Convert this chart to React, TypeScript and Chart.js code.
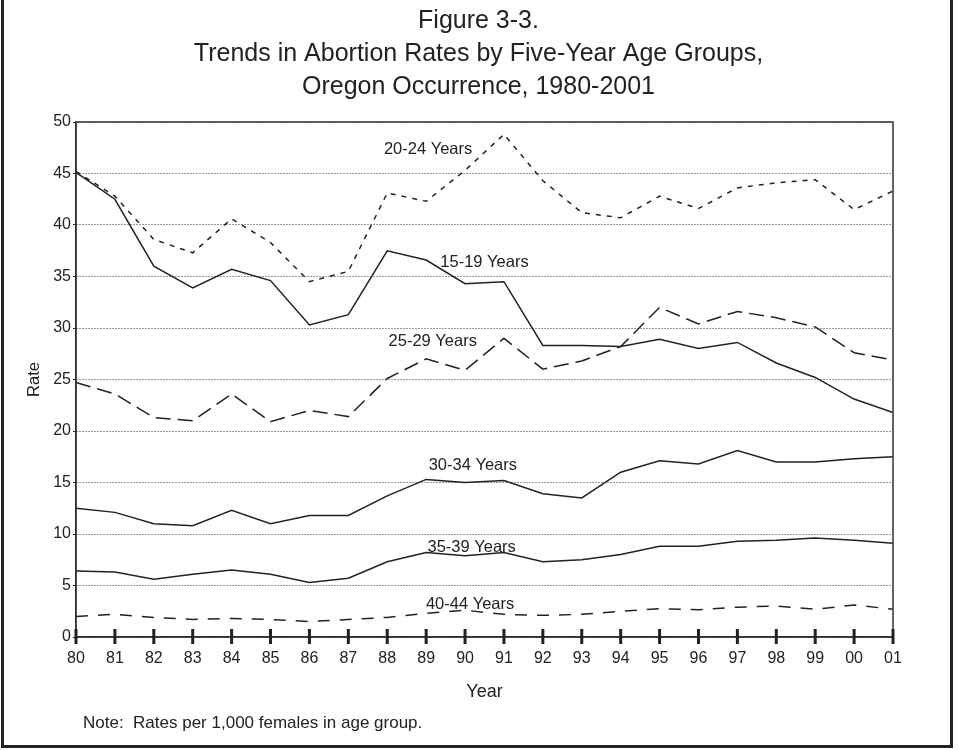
import React, { useEffect, useRef } from 'react';
import { Chart, registerables } from 'chart.js';

Chart.register(...registerables);

const years = ['80', '81', '82', '83', '84', '85', '86', '87', '88', '89', '90', '91', '92', '93', '94', '95', '96', '97', '98', '99', '00', '01'];
const rate15to19 = [45.1, 42.5, 36.0, 33.9, 35.7, 34.6, 30.3, 31.3, 37.5, 36.6, 34.3, 34.5, 28.3, 28.3, 28.2, 28.9, 28.0, 28.6, 26.6, 25.2, 23.1, 21.8];
const rate20to24 = [45.2, 42.8, 38.6, 37.3, 40.6, 38.3, 34.5, 35.5, 43.1, 42.3, 45.3, 48.8, 44.3, 41.2, 40.7, 42.8, 41.6, 43.6, 44.1, 44.4, 41.5, 43.3];
const rate25to29 = [24.7, 23.6, 21.3, 21.0, 23.6, 20.9, 22.0, 21.4, 25.1, 27.0, 25.9, 29.0, 26.0, 26.8, 28.2, 32.0, 30.4, 31.6, 31.0, 30.1, 27.6, 26.9];
const rate30to34 = [12.5, 12.1, 11.0, 10.8, 12.3, 11.0, 11.8, 11.8, 13.7, 15.3, 15.0, 15.2, 13.9, 13.5, 16.0, 17.1, 16.8, 18.1, 17.0, 17.0, 17.3, 17.5];
const rate35to39 = [6.4, 6.3, 5.6, 6.1, 6.5, 6.1, 5.3, 5.7, 7.3, 8.2, 7.9, 8.2, 7.3, 7.5, 8.0, 8.8, 8.8, 9.3, 9.4, 9.6, 9.4, 9.1];
const rate40to44 = [2.0, 2.2, 1.9, 1.7, 1.8, 1.7, 1.5, 1.7, 1.9, 2.3, 2.6, 2.2, 2.1, 2.2, 2.5, 2.75, 2.65, 2.9, 3.0, 2.7, 3.1, 2.7];

const seriesNames = ['15-19 Years', '20-24 Years', '25-29 Years', '30-34 Years', '35-39 Years', '40-44 Years'];
const titleLines = ['Figure 3-3.', 'Trends in Abortion Rates by Five-Year Age Groups,', 'Oregon Occurrence, 1980-2001'];
const noteText = 'Note:  Rates per 1,000 females in age group.';

// label anchor points in data coordinates (category index, rate)
const labelAnchors = [
  { text: seriesNames[1], x: 9.05, y: 47.3 },
  { text: seriesNames[0], x: 10.5, y: 36.4 },
  { text: seriesNames[2], x: 9.17, y: 28.7 },
  { text: seriesNames[3], x: 10.2, y: 16.7 },
  { text: seriesNames[4], x: 10.17, y: 8.7 },
  { text: seriesNames[5], x: 10.13, y: 3.15 },
];

const FONT = '"Liberation Sans", Arial, sans-serif';
const INK = '#222';

const decorPlugin = {
  id: 'decor',
  afterDraw(chart: any) {
    const { ctx, chartArea: a, scales, width, height } = chart;
    const xs = scales.x;
    const ys = scales.y;
    ctx.save();
    // plot frame
    ctx.strokeStyle = '#333';
    ctx.lineWidth = 1.5;
    ctx.setLineDash([]);
    ctx.strokeRect(a.left, a.top, a.right - a.left, a.bottom - a.top);
    // cross ticks on x axis
    ctx.lineWidth = 3;
    ctx.strokeStyle = INK;
    years.forEach((_, i) => {
      const px = xs.getPixelForTick(i);
      ctx.beginPath();
      ctx.moveTo(px, a.bottom - 8);
      ctx.lineTo(px, a.bottom + 7);
      ctx.stroke();
    });
    // series labels
    ctx.fillStyle = INK;
    ctx.font = `16.5px ${FONT}`;
    ctx.textAlign = 'center';
    ctx.textBaseline = 'middle';
    labelAnchors.forEach((l) => {
      ctx.fillText(l.text, xs.getPixelForValue(l.x), ys.getPixelForValue(l.y));
    });
    // title
    ctx.font = `25px ${FONT}`;
    titleLines.forEach((t, i) => {
      ctx.fillText(t, width / 2 - 1, 21 + i * 33);
    });
    // note
    ctx.font = `17px ${FONT}`;
    ctx.textAlign = 'left';
    ctx.fillText(noteText, 83, 723);
    // outer frame
    ctx.lineWidth = 3;
    ctx.strokeStyle = INK;
    ctx.beginPath();
    ctx.moveTo(2.5, 0);
    ctx.lineTo(2.5, height - 3.5);
    ctx.lineTo(width - 7.5, height - 3.5);
    ctx.lineTo(width - 7.5, 0);
    ctx.stroke();
    ctx.restore();
  },
};

export default function App() {
  const ref = useRef<HTMLCanvasElement | null>(null);
  useEffect(() => {
    document.body.style.margin = '0';
    const canvas = ref.current;
    if (!canvas) return;
    const line = (label: string, data: number[], dash: number[]) => ({
      label,
      data,
      borderColor: INK,
      borderWidth: 1.5,
      borderDash: dash,
      pointRadius: 0,
      tension: 0,
      fill: false,
    });
    const chart = new Chart(canvas, {
      type: 'line',
      data: {
        labels: years,
        datasets: [
          line(seriesNames[0], rate15to19, []),
          line(seriesNames[1], rate20to24, [5, 6]),
          line(seriesNames[2], rate25to29, [15, 7]),
          line(seriesNames[3], rate30to34, []),
          line(seriesNames[4], rate35to39, []),
          line(seriesNames[5], rate40to44, [12, 10]),
        ],
      },
      options: {
        animation: false,
        responsive: false,
        devicePixelRatio: 1,
        layout: { padding: { left: 0, top: 122, right: 66, bottom: 0 } },
        plugins: { legend: { display: false }, tooltip: { enabled: false }, title: { display: false } },
        scales: {
          x: {
            type: 'category',
            offset: false,
            afterFit: (s: any) => { s.height = 113; },
            grid: { display: false, drawTicks: false },
            border: { display: true, color: '#333', width: 1.5 },
            ticks: { color: INK, font: { family: FONT, size: 16 }, padding: 12, maxRotation: 0, autoSkip: false },
            title: { display: true, text: 'Year', color: INK, font: { family: FONT, size: 18 }, padding: { top: 0, bottom: 47 } },
          },
          y: {
            min: 0,
            max: 50,
            afterFit: (s: any) => { s.width = 76; },
            grid: { color: '#333', lineWidth: 1, drawTicks: true, tickLength: 3, tickColor: INK, tickWidth: 1 },
            border: { display: true, color: '#333', width: 1.5, dash: [1, 2] },
            ticks: { stepSize: 5, color: INK, font: { family: FONT, size: 16 }, padding: 2 },
            title: { display: true, text: 'Rate', color: INK, font: { family: FONT, size: 16.5 }, padding: { top: 25, bottom: 0 } },
          },
        },
      },
      plugins: [decorPlugin],
    } as any);
    return () => chart.destroy();
  }, []);
  return <canvas ref={ref} width={959} height={750} style={{ display: 'block' }} />;
}
